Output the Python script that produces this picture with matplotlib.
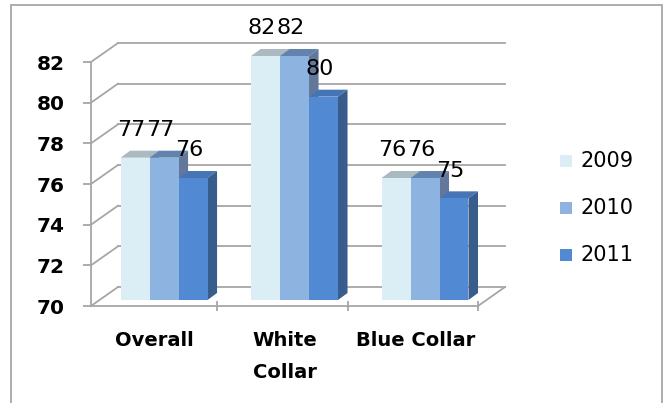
import matplotlib
matplotlib.use("Agg")
import matplotlib.pyplot as plt
from matplotlib.patches import Polygon, Rectangle

# --- data -------------------------------------------------------------
categories = ["Overall", "White\nCollar", "Blue Collar"]
years = ["2009", "2010", "2011"]
v2009 = [77, 82, 76]
v2010 = [77, 82, 76]
v2011 = [76, 80, 75]
yticks = [70, 72, 74, 76, 78, 80, 82]

series = [v2009, v2010, v2011]
front_cols = ["#DCEEF5", "#8DB3E1", "#5189D3"]
top_cols = ["#ABBAC0", "#6283AE", "#4675B6"]
side_cols = ["#9AAAB0", "#62789A", "#385C8C"]
grid_col = "#A6A6A6"

W, H = 667, 403
fig = plt.figure(figsize=(W / 100, H / 100), dpi=100)
plt.rcParams["font.family"] = ["DejaVu Sans"]

# front plane of the 3-D box
ax = fig.add_axes([91 / W, 1 - 306 / H, 387 / W, 244 / H])
ax.set_xlim(-0.466, 2.5)
ax.set_ylim(70, 82)
ax.patch.set_visible(False)

# box depth in data units (x: categories, y: values)
DX, DY = 0.207, 0.935
# columns sit inside the box: front shift and column depth
sx, sy = 0.094, 0.295
ddx, ddy = 0.073, 0.344
w = 0.222                    # column width

x0 = ax.get_xlim()[0]
# back wall gridlines and side wall diagonals
for v in yticks:
    ax.plot([x0 + DX, 2.5 + DX], [v + DY, v + DY], color=grid_col,
            lw=1.3, clip_on=False, zorder=0)
    ax.plot([x0, x0 + DX], [v, v + DY], color=grid_col,
            lw=1.3, clip_on=False, zorder=0)
# floor right edge
ax.plot([2.5, 2.5 + DX], [70, 70 + DY], color=grid_col, lw=1.3,
        clip_on=False, zorder=0)

# axes styling
for s in ["top", "right"]:
    ax.spines[s].set_visible(False)
for s in ["left", "bottom"]:
    ax.spines[s].set_color(grid_col)
    ax.spines[s].set_linewidth(1.3)
ax.set_yticks(yticks)
ax.set_yticklabels([str(t) for t in yticks], fontsize=14.5, fontweight="bold")
ax.tick_params(axis="y", length=6, width=1.3, color=grid_col, pad=13)
ax.set_xticks([0.5, 1.5, 2.5])
ax.set_xticklabels([])
ax.tick_params(axis="x", which="major", direction="inout", length=7,
               width=1.3, color=grid_col)
ax.set_xticks([0.02, 1.02, 2.02], minor=True)
ax.set_xticklabels(categories, minor=True, fontsize=14, fontweight="bold",
                   va="top", linespacing=1.9)
ax.tick_params(axis="x", which="minor", length=0, pad=18)

# columns: front faces through ax.bar, top and side faces as polygons
for j, vals in enumerate(series):
    lefts = [i + sx + (j - 1.5) * w for i in range(len(categories))]
    heights = [v - 70 for v in vals]
    ax.bar(lefts, heights, width=w, bottom=70 + sy, align="edge",
           color=front_cols[j], linewidth=0, clip_on=False, zorder=3)
    for L, v in zip(lefts, vals):
        top = v + sy
        ax.add_patch(Polygon([(L, top), (L + w, top), (L + w + ddx, top + ddy),
                              (L + ddx, top + ddy)], closed=True,
                             facecolor=top_cols[j], edgecolor="none",
                             clip_on=False, zorder=2))
        ax.add_patch(Polygon([(L + w, 70 + sy), (L + w + ddx, 70 + sy + ddy),
                              (L + w + ddx, top + ddy), (L + w, top)],
                             closed=True, facecolor=side_cols[j],
                             edgecolor="none", clip_on=False, zorder=2))
        ax.annotate(str(v), xy=(L + w / 2, top), xytext=(-2.5, 20),
                    textcoords="offset points", ha="center", va="center",
                    fontsize=16, zorder=5, annotation_clip=False)

# legend
for j, (yr, yc) in enumerate(zip(years, [161, 208, 255])):
    fig.add_artist(Rectangle((560 / W, 1 - (yc + 6) / H), 12 / W, 12 / H,
                             transform=fig.transFigure,
                             facecolor=front_cols[j], edgecolor="none"))
    fig.text(581 / W, 1 - yc / H, yr, fontsize=15, va="center", ha="left")

# chart frame
fig.add_artist(Rectangle((11 / W, -0.05), 651 / W, 1.05 - 5 / H,
                         transform=fig.transFigure, fill=False,
                         edgecolor="#A6A6A6", linewidth=1.3))

fig.savefig("out.png", dpi=100)
